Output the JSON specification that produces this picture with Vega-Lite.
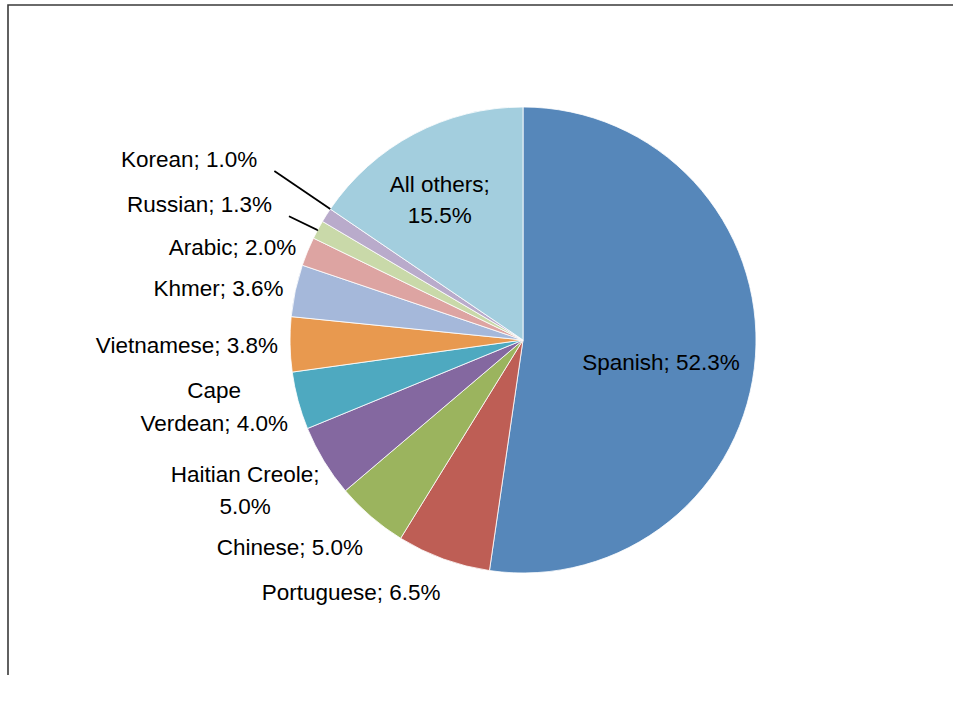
{
  "$schema": "https://vega.github.io/schema/vega-lite/v6.json",
  "width": 1030,
  "height": 670,
  "autosize": "none",
  "padding": {"left": 8, "top": 5, "right": 0, "bottom": 0},
  "background": "white",
  "view": {"stroke": "#3a3a3a", "strokeWidth": 1.6, "strokeDash": [1030, 1700, 670, 1]},
  "config": {
    "text": {"font": "Liberation Sans", "fontSize": 22.5, "fill": "#000000"}
  },
  "data": {
    "values": [
      {"lang": "Spanish", "pct": 52.3, "order": 1, "label": "Spanish; 52.3%"},
      {"lang": "Portuguese", "pct": 6.5, "order": 2, "label": "Portuguese; 6.5%"},
      {"lang": "Chinese", "pct": 5.0, "order": 3, "label": "Chinese; 5.0%"},
      {"lang": "Haitian Creole", "pct": 5.0, "order": 4, "label": "Haitian Creole;\n5.0%"},
      {"lang": "Cape Verdean", "pct": 4.0, "order": 5, "label": "Cape\nVerdean; 4.0%"},
      {"lang": "Vietnamese", "pct": 3.8, "order": 6, "label": "Vietnamese; 3.8%"},
      {"lang": "Khmer", "pct": 3.6, "order": 7, "label": "Khmer; 3.6%"},
      {"lang": "Arabic", "pct": 2.0, "order": 8, "label": "Arabic; 2.0%"},
      {"lang": "Russian", "pct": 1.3, "order": 9, "label": "Russian; 1.3%"},
      {"lang": "Korean", "pct": 1.0, "order": 10, "label": "Korean; 1.0%"},
      {"lang": "All others", "pct": 15.5, "order": 11, "label": "All others;\n15.5%"}
    ]
  },
  "encoding": {
    "theta": {"field": "pct", "type": "quantitative", "stack": true},
    "order": {"field": "order", "type": "quantitative"}
  },
  "layer": [
    {
      "mark": {"type": "arc", "outerRadius": 233, "stroke": "white", "strokeWidth": 0.8},
      "encoding": {
        "color": {
          "field": "lang",
          "type": "nominal",
          "legend": null,
          "scale": {
            "domain": ["Spanish", "Portuguese", "Chinese", "Haitian Creole", "Cape Verdean", "Vietnamese", "Khmer", "Arabic", "Russian", "Korean", "All others"],
            "range": ["#5687BA", "#BE5E55", "#9BB45E", "#8468A0", "#4EA9C0", "#E8994F", "#A5B8DA", "#DDA4A2", "#C9D9A9", "#B9ABCB", "#A3CEDE"]
          }
        }
      }
    },
    {
      "mark": {"type": "arc", "filled": false, "innerRadius": 233, "outerRadius": 301, "strokeWidth": 1.8, "strokeDash": [0, 293.4, 67.6, 5000]},
      "encoding": {
        "stroke": {"condition": {"test": "datum.lang === 'All others'", "value": "#000000"}, "value": "transparent"}
      }
    },
    {
      "mark": {"type": "arc", "filled": false, "innerRadius": 233, "outerRadius": 265, "padAngle": 0.051, "strokeWidth": 1.8, "strokeDash": [0, 3.9, 31.8, 3000]},
      "encoding": {
        "stroke": {"condition": {"test": "datum.lang === 'Russian'", "value": "#000000"}, "value": "transparent"}
      }
    },
    {
      "mark": {"type": "text", "radius": 245, "dy": 1, "align": "right", "baseline": "middle", "lineBreak": "\n"},
      "encoding": {
        "text": {"condition": {"test": "indexof(['Vietnamese','Khmer','Arabic'], datum.lang) >= 0", "field": "label"}, "value": ""}
      }
    },
    {
      "mark": {"type": "text", "radius": 316, "thetaOffset": 0.05, "dy": -16, "align": "center", "baseline": "middle", "lineBreak": "\n", "lineHeight": 32.5},
      "encoding": {
        "text": {"condition": {"test": "indexof(['Cape Verdean','Haitian Creole'], datum.lang) >= 0", "field": "label"}, "value": ""}
      }
    },
    {
      "mark": {"type": "text", "radius": 250, "dx": 3, "dy": 7, "align": "right", "baseline": "top", "lineBreak": "\n"},
      "encoding": {
        "text": {"condition": {"test": "indexof(['Chinese','Portuguese'], datum.lang) >= 0", "field": "label"}, "value": ""}
      }
    },
    {
      "mark": {"type": "text", "radius": 321, "thetaOffset": 0.03, "align": "right", "baseline": "middle"},
      "encoding": {
        "text": {"condition": {"test": "datum.lang === 'Korean'", "field": "label"}, "value": ""}
      }
    },
    {
      "mark": {"type": "text", "radius": 285, "align": "right", "baseline": "middle"},
      "encoding": {
        "text": {"condition": {"test": "datum.lang === 'Russian'", "field": "label"}, "value": ""}
      }
    },
    {
      "mark": {"type": "text", "radius": 140, "thetaOffset": 0.094, "align": "center", "baseline": "middle"},
      "encoding": {
        "text": {"condition": {"test": "datum.lang === 'Spanish'", "field": "label"}, "value": ""}
      }
    },
    {
      "mark": {"type": "text", "radius": 163, "thetaOffset": -0.049, "dy": -15, "align": "center", "baseline": "middle", "lineBreak": "\n", "lineHeight": 31.5},
      "encoding": {
        "text": {"condition": {"test": "datum.lang === 'All others'", "field": "label"}, "value": ""}
      }
    }
  ]
}
